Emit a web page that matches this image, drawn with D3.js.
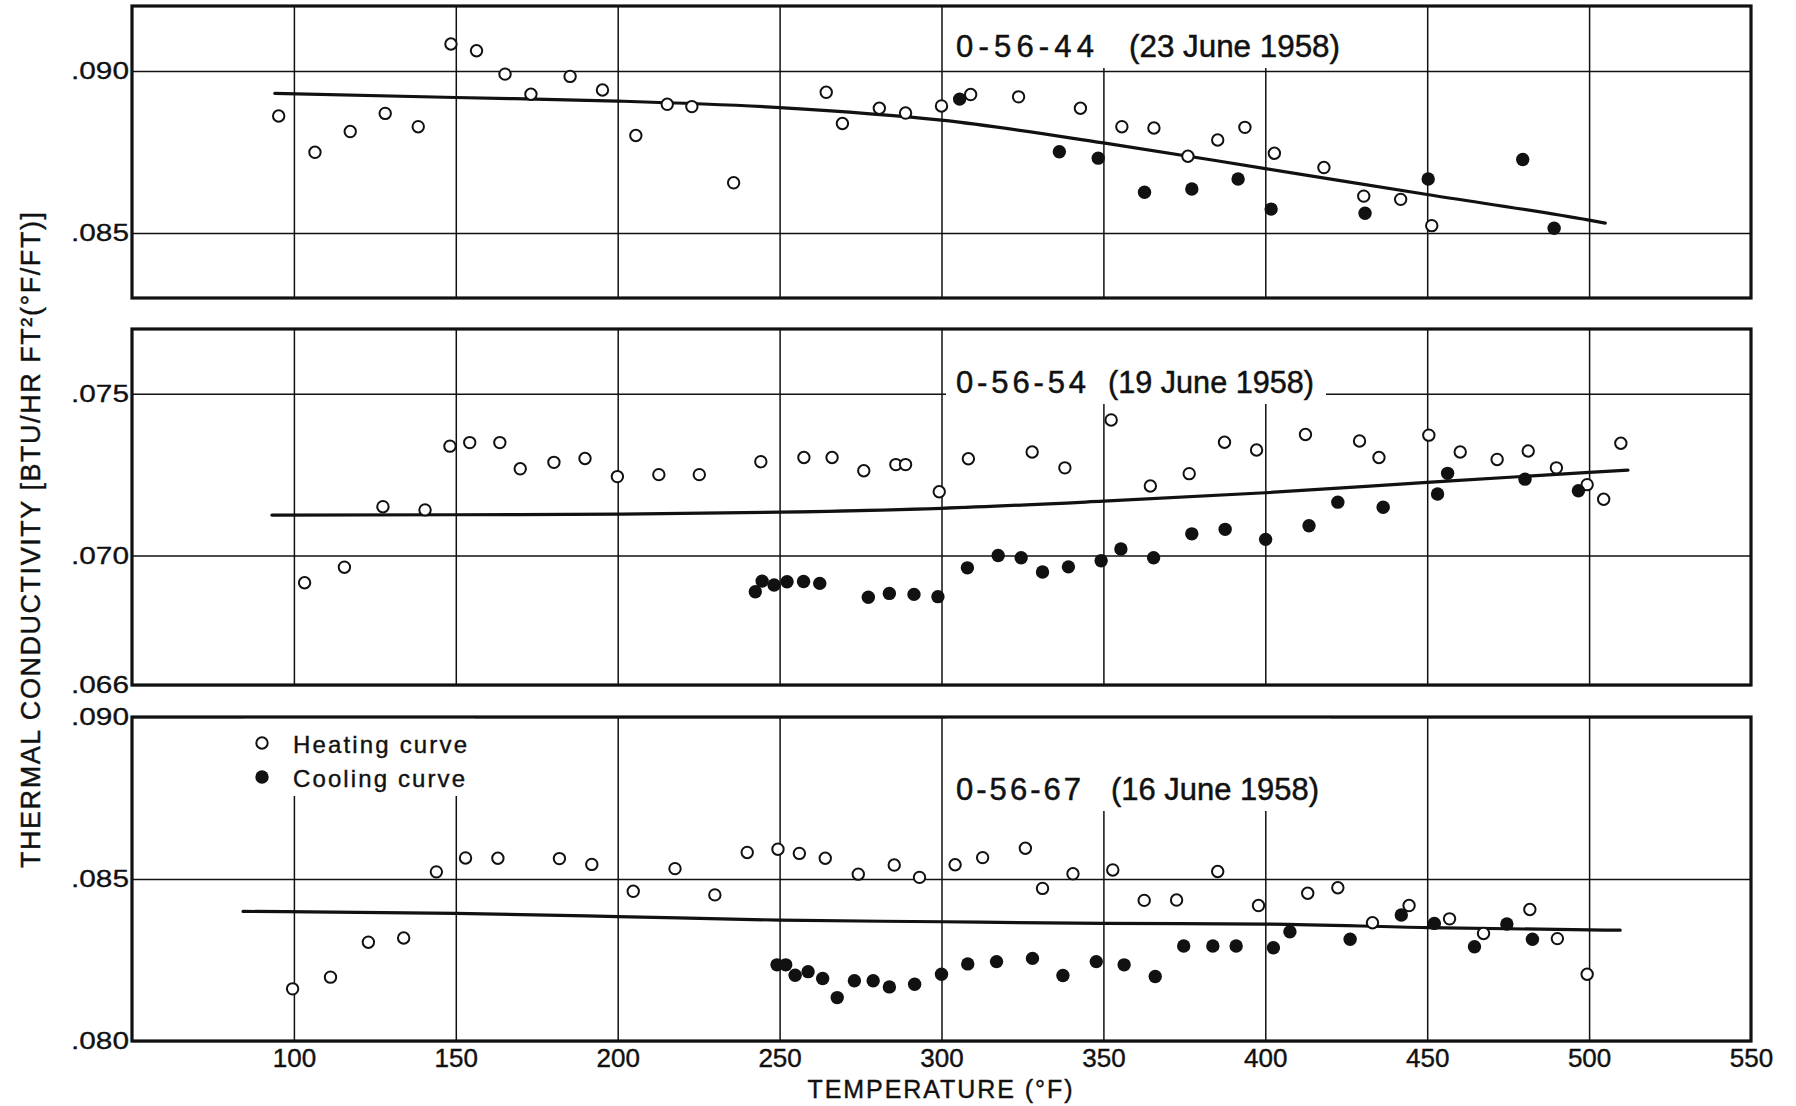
<!DOCTYPE html>
<html>
<head>
<meta charset="utf-8">
<script src="https://cdn.jsdelivr.net/npm/d3@7"></script>
<style>
  html, body { margin: 0; padding: 0; background: #fff; }
  svg { display: block; }
  text { fill: #111; }
</style>
</head>
<body>
<svg id="chart" width="1796" height="1106"></svg>
<script>
// ---------------- DATA ----------------
const xTickValues = [100, 150, 200, 250, 300, 350, 400, 450, 500, 550];
const xGridValues = [100, 150, 200, 250, 300, 350, 400, 450, 500];
const xDomain = [50, 550];

const panelIds = ["0-56-44", "0-56-54", "0-56-67"];
const panelDates = ["(23 June 1958)", "(19 June 1958)", "(16 June 1958)"];
const yDomains = [[0.083, 0.092], [0.066, 0.077], [0.080, 0.090]];
const yTickValues = [[0.085, 0.090], [0.066, 0.070, 0.075], [0.080, 0.085, 0.090]];

const legendLabels = ["Heating curve", "Cooling curve"];
const xAxisTitle = "TEMPERATURE (°F)";
const yAxisTitle = "THERMAL  CONDUCTIVITY  [BTU/HR FT²(°F/FT)]";

// panel 0-56-44
const heating44 = [[95.3,.08861],[106.5,.08749],[117.4,.08813],[128.2,.08869],[138.4,.08828],[148.5,.09083],[156.4,.09062],[165.2,.08990],[173.2,.08928],[185.3,.08983],[195.3,.08941],[205.6,.08801],[215.3,.08897],[222.9,.08890],[235.8,.08655],[264.4,.08934],[269.4,.08838],[280.8,.08885],[288.9,.08870],[300.0,.08892],[309.0,.08927],[323.8,.08920],[342.9,.08885],[355.7,.08828],[365.6,.08824],[376.1,.08737],[385.3,.08787],[393.7,.08826],[402.8,.08746],[418.1,.08702],[430.4,.08614],[441.8,.08604],[451.4,.08523]];
const cooling44 = [[305.6,.08913],[336.4,.08751],[348.4,.08731],[362.7,.08626],[377.3,.08636],[391.6,.08667],[401.8,.08574],[430.8,.08561],[450.3,.08667],[479.5,.08727],[489.2,.08515]];
const fit44 = [[94.1,.08931],[150,.08918],[200,.08907],[250,.08887],[300,.08848],[350,.08778],[400,.08699],[450,.08619],[500,.08540],[505,.08531]];

// panel 0-56-54
const heating54 = [[103.3,.06916],[115.6,.06964],[127.5,.07151],[140.5,.07141],[148.2,.07338],[154.3,.07349],[163.6,.07349],[169.9,.07268],[180.3,.07288],[189.9,.07300],[199.9,.07244],[212.7,.07250],[225.2,.07250],[244.2,.07290],[257.5,.07303],[266.2,.07303],[276.0,.07262],[285.9,.07281],[288.9,.07281],[299.3,.07197],[308.3,.07299],[328.0,.07320],[338.1,.07271],[352.4,.07419],[364.5,.07215],[376.5,.07253],[387.4,.07350],[397.3,.07326],[412.4,.07374],[429.1,.07354],[435.1,.07303],[450.5,.07372],[460.2,.07320],[471.6,.07297],[481.2,.07323],[489.9,.07271],[499.4,.07219],[504.5,.07174],[509.8,.07347]];
const cooling54 = [[242.5,.06888],[244.6,.06921],[248.3,.06909],[252.3,.06919],[257.4,.06920],[262.4,.06914],[277.4,.06871],[283.9,.06883],[291.5,.06880],[298.9,.06873],[308.0,.06962],[317.5,.07000],[324.6,.06993],[331.2,.06949],[339.2,.06965],[349.3,.06984],[355.4,.07020],[365.5,.06993],[377.3,.07067],[387.6,.07081],[400.1,.07050],[413.5,.07092],[422.4,.07165],[436.4,.07149],[453.2,.07190],[456.3,.07254],[480.2,.07236],[496.7,.07200]];
const fit54 = [[93.2,.07125],[150,.07126],[200,.07128],[250,.07134],[300,.07146],[350,.07168],[400,.07194],[450,.07226],[500,.07257],[512,.07264]];

// panel 0-56-67
const heating67 = [[99.6,.08161],[111.3,.08197],[123.0,.08305],[133.9,.08318],[144.0,.08522],[153.0,.08565],[163.0,.08564],[182.0,.08563],[192.0,.08545],[204.8,.08462],[217.7,.08532],[230.0,.08451],[240.0,.08582],[249.5,.08592],[256.1,.08579],[264.1,.08564],[274.3,.08515],[285.4,.08543],[293.2,.08505],[304.2,.08544],[312.7,.08566],[325.9,.08595],[331.2,.08471],[340.6,.08516],[352.9,.08528],[362.6,.08434],[372.6,.08435],[385.3,.08523],[397.9,.08418],[413.1,.08456],[422.4,.08473],[433.1,.08365],[444.4,.08418],[456.9,.08377],[467.4,.08332],[481.7,.08406],[490.2,.08316],[499.4,.08206]];
const cooling67 = [[249.2,.08235],[251.9,.08235],[254.8,.08203],[258.8,.08214],[263.3,.08193],[267.8,.08134],[273.1,.08186],[278.9,.08186],[283.9,.08167],[291.7,.08175],[300.0,.08206],[308.1,.08238],[317.0,.08245],[328.1,.08255],[337.5,.08202],[347.8,.08245],[356.4,.08235],[366.0,.08199],[374.8,.08293],[383.8,.08293],[391.0,.08293],[402.5,.08288],[407.6,.08337],[426.2,.08314],[442.0,.08389],[452.2,.08363],[464.6,.08291],[474.6,.08361],[482.5,.08314]];
const fit67 = [[84.3,.08400],[150,.08394],[200,.08384],[250,.08373],[300,.08368],[350,.08363],[400,.08361],[450,.08350],[500,.08343],[509.6,.08342]];

const heatingSeries = [heating44, heating54, heating67];
const coolingSeries = [cooling44, cooling54, cooling67];
const fitSeries = [fit44, fit54, fit67];

// ---------------- LAYOUT ----------------
const panelTops = [6, 329, 717];
const panelBottoms = [298, 685, 1041];
const titleBaselineOffsets = [51, 64, 83];
const titleIdWidths = [138, 130, 125];
const titleDateWidths = [211, 206, 208];
const titleDateGaps = [35, 22, 30];
const ink = "#111";
const FONT = "'Liberation Sans', Arial, Helvetica, sans-serif";

const svg = d3.select("#chart");
svg.append("rect").attr("width", 1796).attr("height", 1106).attr("fill", "#fff");

const x = d3.scaleLinear().domain(xDomain).range([132, 1751]);
const fmtY = v => d3.format(".3f")(v).replace(/^0/, "");

panelIds.forEach((pid, i) => {
  const top = panelTops[i], bottom = panelBottoms[i];
  const y = d3.scaleLinear().domain(yDomains[i]).range([bottom, top]);
  const g = svg.append("g").attr("class", "panel");

  // vertical grid
  const vg = g.append("g")
    .attr("transform", `translate(0,${bottom})`)
    .call(d3.axisBottom(x).tickValues(xGridValues).tickSize(-(bottom - top)).tickFormat(""));
  vg.select(".domain").remove();
  vg.selectAll("line").attr("stroke", ink).attr("stroke-width", 1.5);

  // horizontal grid
  const hg = g.append("g")
    .attr("transform", `translate(${x(xDomain[0])},0)`)
    .call(d3.axisLeft(y).tickValues(yTickValues[i]).tickSize(-(x(xDomain[1]) - x(xDomain[0]))).tickFormat(""));
  hg.select(".domain").remove();
  hg.selectAll("line").attr("stroke", ink).attr("stroke-width", 1.5);

  // y labels
  const yl = g.append("g")
    .attr("transform", `translate(${x(xDomain[0])},0)`)
    .call(d3.axisLeft(y).tickValues(yTickValues[i]).tickSize(0).tickPadding(3).tickFormat(fmtY));
  yl.select(".domain").remove();
  yl.selectAll("text")
    .attr("font-family", FONT).attr("font-size", 24).attr("fill", ink)
    .attr("stroke", ink).attr("stroke-width", 0.3)
    .attr("textLength", 58).attr("lengthAdjust", "spacingAndGlyphs");

  const masks = g.append("g");

  // fitted curve
  const line = d3.line().x(d => x(d[0])).y(d => y(d[1])).curve(d3.curveMonotoneX);
  g.append("path").datum(fitSeries[i])
    .attr("d", line).attr("fill", "none").attr("stroke", ink)
    .attr("stroke-width", 3.2).attr("stroke-linejoin", "round").attr("stroke-linecap", "round");

  // points
  g.append("g").selectAll("circle").data(heatingSeries[i]).join("circle")
    .attr("cx", d => x(d[0])).attr("cy", d => y(d[1])).attr("r", 5.7)
    .attr("fill", "#fff").attr("stroke", ink).attr("stroke-width", 2);
  g.append("g").selectAll("circle").data(coolingSeries[i]).join("circle")
    .attr("cx", d => x(d[0])).attr("cy", d => y(d[1])).attr("r", 6.7)
    .attr("fill", ink);

  // title
  const tg = g.append("g");
  const tx = 956, ty = top + titleBaselineOffsets[i];
  tg.append("text").attr("x", tx).attr("y", ty)
    .attr("font-family", FONT).attr("font-size", 31)
    .attr("stroke", ink).attr("stroke-width", 0.5)
    .attr("textLength", titleIdWidths[i]).attr("lengthAdjust", "spacing")
    .text(pid);
  tg.append("text").attr("x", tx + titleIdWidths[i] + titleDateGaps[i]).attr("y", ty)
    .attr("font-family", FONT).attr("font-size", 31)
    .attr("stroke", ink).attr("stroke-width", 0.5)
    .attr("textLength", titleDateWidths[i]).attr("lengthAdjust", "spacingAndGlyphs")
    .text(panelDates[i]);
  const bb = tg.node().getBBox();
  masks.append("rect")
    .attr("x", bb.x - 10).attr("y", top)
    .attr("width", bb.width + 22).attr("height", ty + 11 - top)
    .attr("fill", "#fff");

  // legend in the last panel
  if (i === 2) {
    const lg = g.append("g");
    const lx = 262, ly = [743, 777];
    lg.append("circle").attr("cx", lx).attr("cy", ly[0]).attr("r", 5.7)
      .attr("fill", "#fff").attr("stroke", ink).attr("stroke-width", 2);
    lg.append("circle").attr("cx", lx).attr("cy", ly[1]).attr("r", 6.7).attr("fill", ink);
    legendLabels.forEach((lab, k) => {
      lg.append("text").attr("x", 293).attr("y", ly[k] + 10)
        .attr("font-family", FONT).attr("font-size", 24)
        .attr("stroke", ink).attr("stroke-width", 0.4)
        .attr("textLength", k === 0 ? 174 : 172).attr("lengthAdjust", "spacing")
        .text(lab);
    });
    const lb = lg.node().getBBox();
    masks.append("rect")
      .attr("x", lb.x - 12).attr("y", top)
      .attr("width", lb.width + 20).attr("height", lb.y + lb.height + 4 - top)
      .attr("fill", "#fff");
  }

  // frame
  g.append("rect")
    .attr("x", x(xDomain[0])).attr("y", top)
    .attr("width", x(xDomain[1]) - x(xDomain[0])).attr("height", bottom - top)
    .attr("fill", "none").attr("stroke", ink).attr("stroke-width", 3.2);
});

// x axis labels under the bottom panel
const xa = svg.append("g")
  .attr("transform", `translate(0,${panelBottoms[2]})`)
  .call(d3.axisBottom(x).tickValues(xTickValues).tickSize(0).tickPadding(8));
xa.select(".domain").remove();
xa.selectAll("text").attr("font-family", FONT).attr("font-size", 26).attr("fill", ink)
  .attr("stroke", ink).attr("stroke-width", 0.4);

svg.append("text")
  .attr("x", 940).attr("y", 1098).attr("text-anchor", "middle")
  .attr("font-family", FONT).attr("font-size", 25)
  .attr("stroke", ink).attr("stroke-width", 0.4)
  .attr("textLength", 265).attr("lengthAdjust", "spacing")
  .text(xAxisTitle);

svg.append("text")
  .attr("transform", "translate(40,540) rotate(-90)")
  .attr("text-anchor", "middle")
  .attr("font-family", FONT).attr("font-size", 27)
  .attr("stroke", ink).attr("stroke-width", 0.4)
  .attr("textLength", 656).attr("lengthAdjust", "spacing")
  .text(yAxisTitle);
</script>
</body>
</html>
